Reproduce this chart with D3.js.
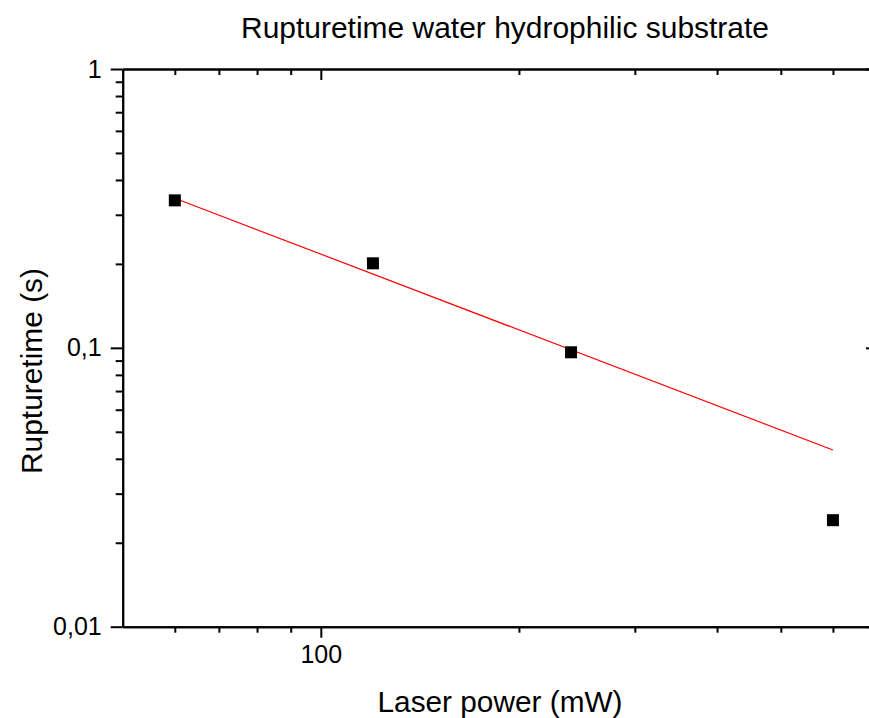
<!DOCTYPE html>
<html>
<head>
<meta charset="utf-8">
<script src="https://cdn.jsdelivr.net/npm/d3@7"></script>
<style>
  html, body { margin: 0; padding: 0; background: #fff; }
  svg { display: block; font-family: "Liberation Sans", Arial, sans-serif; }
</style>
</head>
<body>
<svg id="chart" width="869" height="718"></svg>
<script>
// Laser power (mW) and measured rupture time (s)
const laserPower = [60, 120, 240, 600];
const ruptureTime = [0.338, 0.201, 0.0964, 0.0241];

// Power-law fit line end points
const fitPower = [60, 600];
const fitTime = [0.344, 0.043];

// Axis ranges and tick values
const xDomain = [50, 700];
const yDomain = [0.01, 1];
const xMajorTicks = [100];
const xMinorTicks = [60, 70, 80, 90, 200, 300, 400, 500, 600];
const yMajorTicks = [0.01, 0.1, 1];
const yMinorTicks = [0.02, 0.03, 0.04, 0.05, 0.06, 0.07, 0.08, 0.09,
                     0.2, 0.3, 0.4, 0.5, 0.6, 0.7, 0.8, 0.9];
const yTickLabels = ["0,01", "0,1", "1"];

const titleText = "Rupturetime water hydrophilic substrate";
const xLabelText = "Laser power (mW)";
const yLabelText = "Rupturetime (s)";

const svg = d3.select("#chart");
const plotLeft = 122.7, plotRight = 877, plotTop = 69, plotBottom = 626.7;

const x = d3.scaleLog().domain(xDomain).range([plotLeft, plotRight]);
const y = d3.scaleLog().domain(yDomain).range([plotBottom, plotTop]);

const majorLen = 11, minorLen = 6;
const fmtY = d => yTickLabels[yMajorTicks.indexOf(d)];

function styleAxis(g) {
  g.attr("font-size", null).attr("font-family", null);
  g.select(".domain").attr("stroke", "#000").attr("stroke-width", 2);
  g.selectAll(".tick line").attr("stroke", "#000").attr("stroke-width", 2);
  g.selectAll(".tick text")
    .attr("fill", "#000")
    .attr("font-size", 25)
    .attr("font-family", "'Liberation Sans', Arial, sans-serif");
}

// Bottom axis: outward ticks, labelled major
svg.append("g").attr("transform", `translate(0,${plotBottom})`)
  .call(d3.axisBottom(x).tickValues(xMajorTicks).tickSize(majorLen).tickSizeOuter(0)
        .tickPadding(8).tickFormat(d3.format("d")))
  .call(styleAxis);
svg.append("g").attr("transform", `translate(0,${plotBottom})`)
  .call(d3.axisBottom(x).tickValues(xMinorTicks).tickSize(minorLen).tickSizeOuter(0).tickFormat(""))
  .call(styleAxis);

// Top axis: inward ticks, no labels
svg.append("g").attr("transform", `translate(0,${plotTop})`)
  .call(d3.axisBottom(x).tickValues(xMajorTicks).tickSize(majorLen).tickSizeOuter(0).tickFormat(""))
  .call(styleAxis);
svg.append("g").attr("transform", `translate(0,${plotTop})`)
  .call(d3.axisBottom(x).tickValues(xMinorTicks).tickSize(minorLen).tickSizeOuter(0).tickFormat(""))
  .call(styleAxis);

// Left axis: outward ticks, labelled majors
svg.append("g").attr("transform", `translate(${plotLeft},0)`)
  .call(d3.axisLeft(y).tickValues(yMajorTicks).tickSize(majorLen + 1).tickSizeOuter(0)
        .tickPadding(9).tickFormat(fmtY))
  .call(styleAxis);
svg.append("g").attr("transform", `translate(${plotLeft},0)`)
  .call(d3.axisLeft(y).tickValues(yMinorTicks).tickSize(minorLen + 1).tickSizeOuter(0).tickFormat(""))
  .call(styleAxis);

// Right axis: inward ticks
svg.append("g").attr("transform", `translate(${plotRight},0)`)
  .call(d3.axisLeft(y).tickValues(yMajorTicks).tickSize(majorLen).tickSizeOuter(0).tickFormat(""))
  .call(styleAxis);
svg.append("g").attr("transform", `translate(${plotRight},0)`)
  .call(d3.axisLeft(y).tickValues(yMinorTicks).tickSize(minorLen).tickSizeOuter(0).tickFormat(""))
  .call(styleAxis);

// Fit line
svg.append("path")
  .datum(fitPower.map((p, i) => [p, fitTime[i]]))
  .attr("fill", "none")
  .attr("stroke", "#ff0000")
  .attr("stroke-width", 1.2)
  .attr("d", d3.line().x(d => x(d[0])).y(d => y(d[1])));

// Data points
const sq = 12;
svg.append("g").selectAll("rect")
  .data(laserPower.map((p, i) => [p, ruptureTime[i]]))
  .join("rect")
  .attr("x", d => x(d[0]) - sq / 2)
  .attr("y", d => y(d[1]) - sq / 2)
  .attr("width", sq)
  .attr("height", sq)
  .attr("fill", "#000");

// Title and axis labels
svg.append("text")
  .attr("x", 505).attr("y", 38)
  .attr("text-anchor", "middle")
  .style("font-size", "29.5px")
  .attr("textLength", 528)
  .attr("lengthAdjust", "spacingAndGlyphs")
  .text(titleText);

svg.append("text")
  .attr("x", 500).attr("y", 712)
  .attr("text-anchor", "middle")
  .style("font-size", "29.5px")
  .attr("textLength", 245)
  .attr("lengthAdjust", "spacingAndGlyphs")
  .text(xLabelText);

svg.append("text")
  .attr("transform", "translate(42,371) rotate(-90)")
  .attr("text-anchor", "middle")
  .style("font-size", "29.5px")
  .attr("textLength", 206)
  .attr("lengthAdjust", "spacingAndGlyphs")
  .text(yLabelText);
</script>
</body>
</html>
